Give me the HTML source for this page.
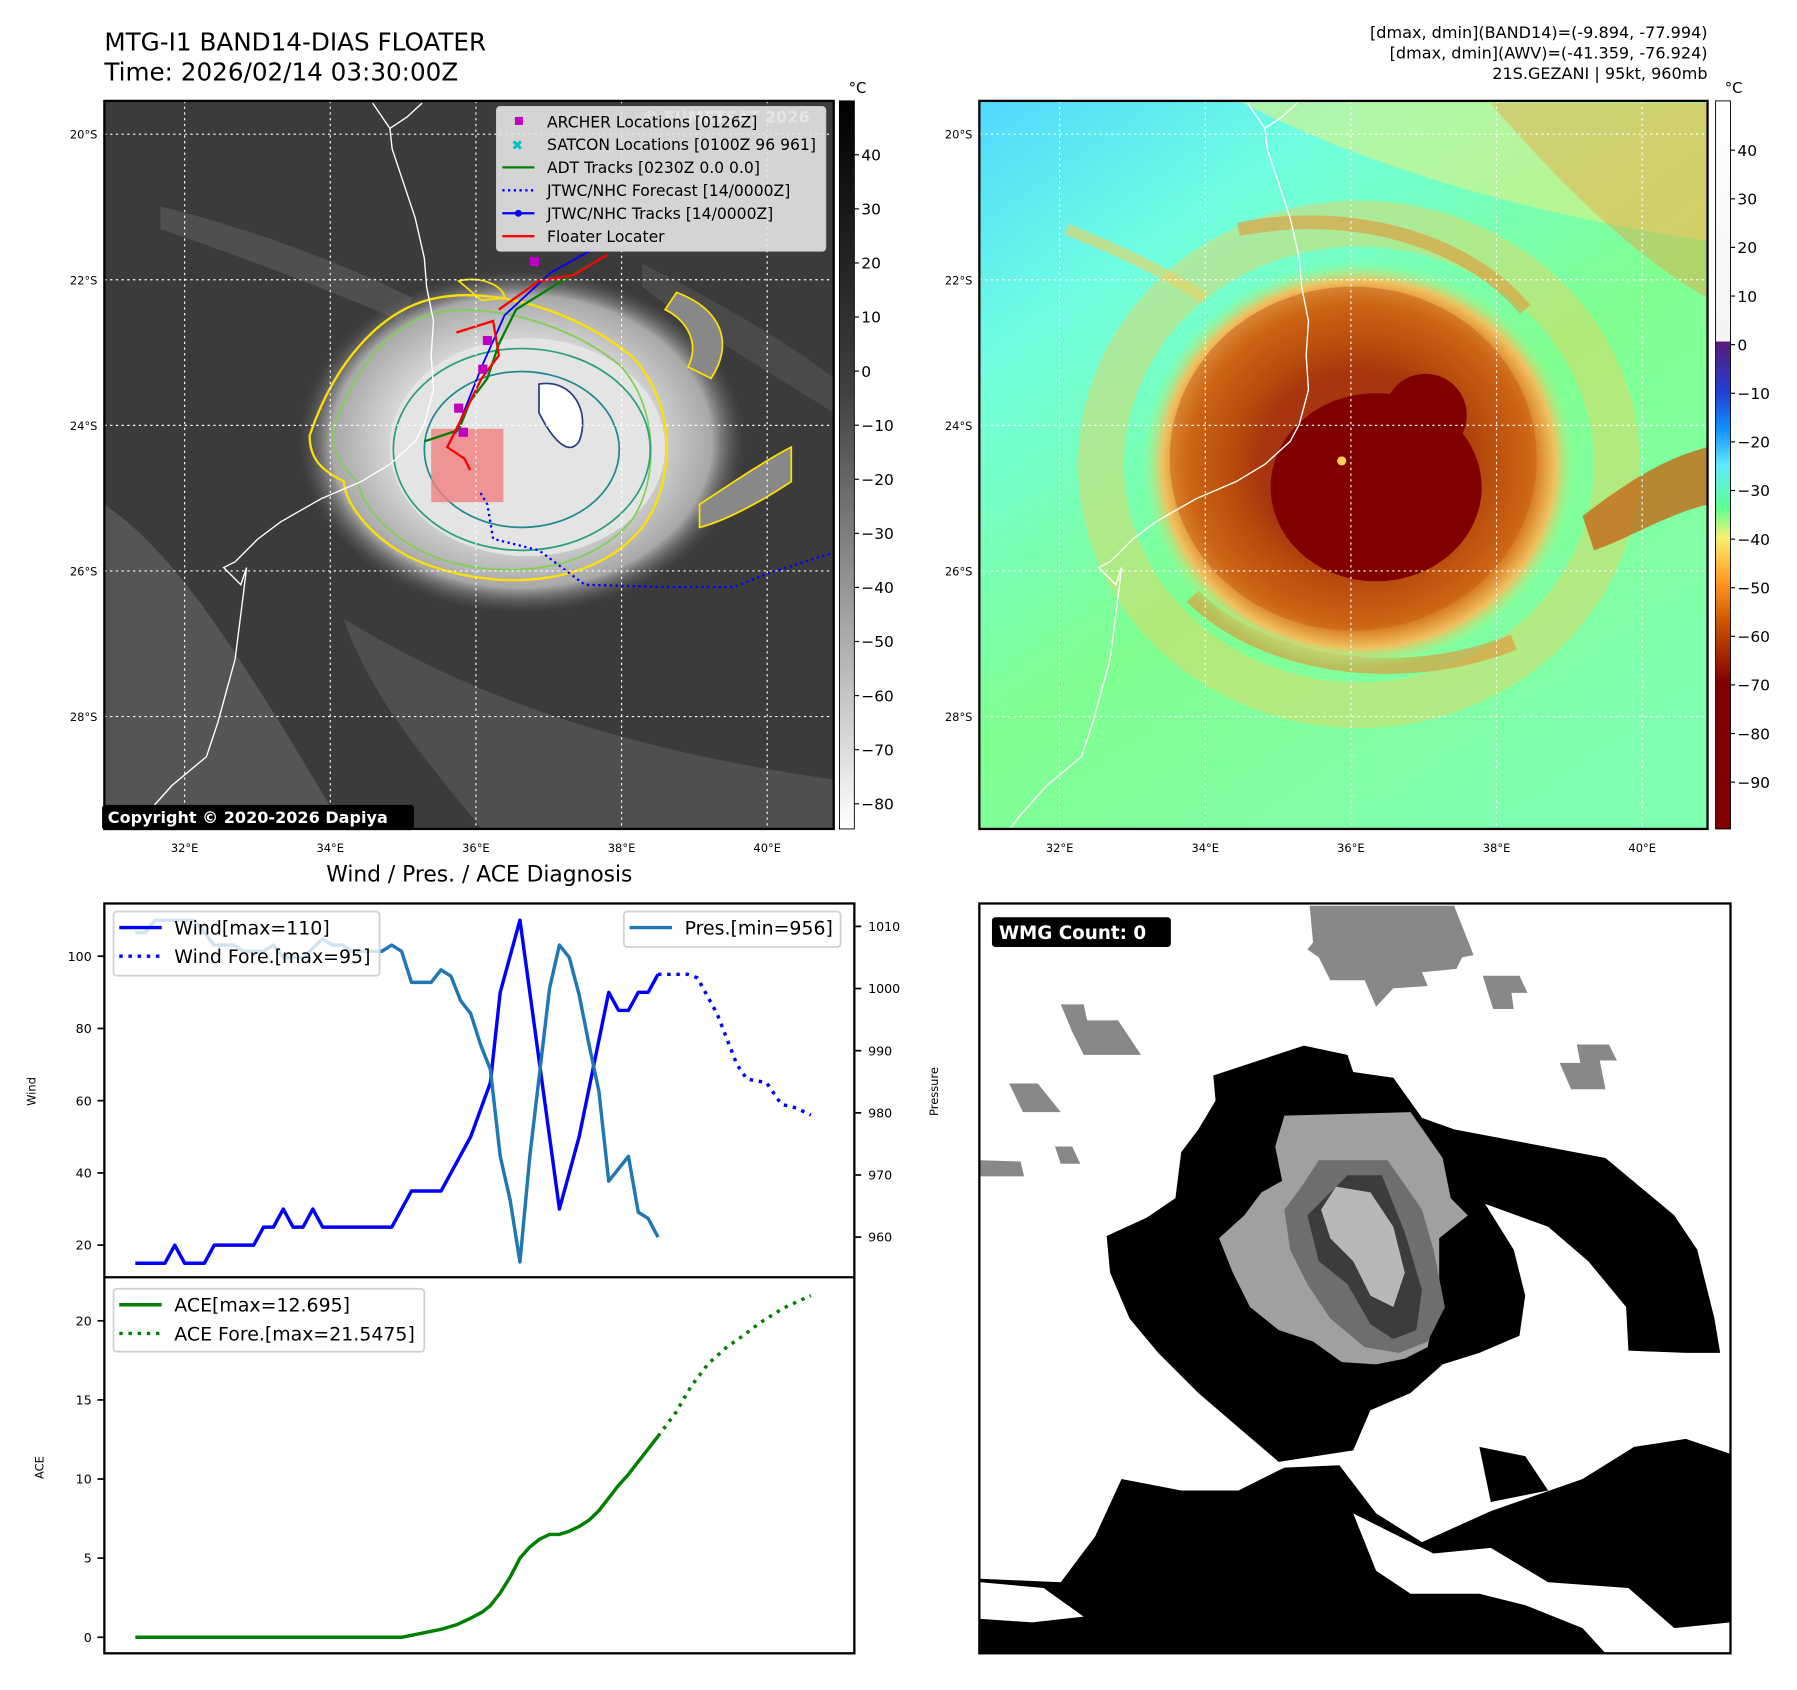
<!DOCTYPE html>
<html><head><meta charset="utf-8">
<style>
html,body{margin:0;padding:0;background:#fff;}
svg{display:block;font-family:"DejaVu Sans","Liberation Sans",sans-serif;}
</style></head>
<body>
<svg id="fig" width="1797" height="1690" viewBox="0 0 1567 1474" preserveAspectRatio="none" xmlns="http://www.w3.org/2000/svg">
<defs>
  <linearGradient id="cbGrey" x1="0" y1="0" x2="0" y2="1">
    <stop offset="0" stop-color="#000"/><stop offset="0.4" stop-color="#404040"/><stop offset="1" stop-color="#fff"/>
  </linearGradient>
  <linearGradient id="cbColor" x1="0" y1="0" x2="0" y2="1">
    <stop offset="0" stop-color="#fff"/><stop offset="0.33" stop-color="#f4f4f4"/>
    <stop offset="0.331" stop-color="#5a1a7a"/><stop offset="0.4" stop-color="#2040d0"/>
    <stop offset="0.45" stop-color="#1090ff"/><stop offset="0.5" stop-color="#60e8ff"/>
    <stop offset="0.56" stop-color="#60ff90"/><stop offset="0.6" stop-color="#f8f070"/>
    <stop offset="0.66" stop-color="#ff9a20"/><stop offset="0.72" stop-color="#c85000"/>
    <stop offset="0.8" stop-color="#800000"/><stop offset="1" stop-color="#800000"/>
  </linearGradient>
  <radialGradient id="cloudG" cx="0.5" cy="0.5" r="0.5">
    <stop offset="0" stop-color="#f4f4f4"/><stop offset="0.55" stop-color="#dcdcdc"/>
    <stop offset="0.85" stop-color="#a8a8a8"/><stop offset="1" stop-color="#5a5a5a" stop-opacity="0"/>
  </radialGradient>
  <radialGradient id="stormC" cx="0.5" cy="0.5" r="0.5">
    <stop offset="0" stop-color="#7a0000"/><stop offset="0.45" stop-color="#800000"/>
    <stop offset="0.6" stop-color="#a83800"/><stop offset="0.78" stop-color="#d06810"/>
    <stop offset="0.9" stop-color="#f0c060"/><stop offset="1" stop-color="#90ff90" stop-opacity="0"/>
  </radialGradient>
  <linearGradient id="bgRight" x1="0" y1="0" x2="0.7" y2="1">
    <stop offset="0" stop-color="#50d8ff"/><stop offset="0.25" stop-color="#70ffe0"/>
    <stop offset="0.6" stop-color="#80ff90"/><stop offset="1" stop-color="#80ffb0"/>
  </linearGradient>
  <clipPath id="clipL"><rect x="91" y="88" width="636" height="635"/></clipPath>
  <clipPath id="clipR"><rect x="854" y="88" width="635" height="635"/></clipPath>
  <clipPath id="clipW"><rect x="854" y="788" width="655" height="654"/></clipPath>
</defs>

<!-- Titles -->
<text x="91" y="44" font-size="21.5">MTG-I1 BAND14-DIAS FLOATER</text>
<text x="91" y="70" font-size="21.5">Time: 2026/02/14 03:30:00Z</text>
<g font-size="14" text-anchor="end">
<text x="1489" y="33">[dmax, dmin](BAND14)=(-9.894, -77.994)</text>
<text x="1489" y="51">[dmax, dmin](AWV)=(-41.359, -76.924)</text>
<text x="1489" y="69">21S.GEZANI | 95kt, 960mb</text>
</g>

<!-- LEFT MAP -->
<g clip-path="url(#clipL)">
  <rect x="91" y="88" width="636" height="635" fill="#3b3b3b"/>
  <path d="M91,440 C150,480 200,560 250,640 L300,723 L91,723Z" fill="#5c5c5c" opacity="0.8"/>
  <path d="M300,540 C400,600 520,650 727,680 L727,723 L420,723 C360,650 320,600 300,540Z" fill="#555" opacity="0.8"/>
  <path d="M140,180 C220,200 300,230 360,260 L350,280 C280,250 200,220 140,200Z" fill="#555" opacity="0.8"/>
  <path d="M560,230 C620,260 690,300 727,330 L727,360 C680,330 610,290 560,250Z" fill="#4a4a4a"/>
  <ellipse cx="455" cy="385" rx="195" ry="150" fill="url(#cloudG)"/>
  <ellipse cx="460" cy="390" rx="120" ry="95" fill="#e4e4e4"/>
  <path d="M270,380 C290,320 330,270 380,260 C430,250 500,270 550,310 C590,350 590,420 560,460 C520,510 440,515 380,495 C330,480 300,440 300,420 C280,410 270,400 270,380Z" fill="none" stroke="#ffe000" stroke-width="2"/>
  <path d="M290,375 C310,320 340,280 385,272 C430,265 495,282 540,318 C575,355 575,420 550,455 C510,500 440,505 385,488 C340,472 315,440 312,420 C295,405 290,392 290,375Z" fill="none" stroke="#80d050" stroke-width="1.5"/>
  <ellipse cx="455" cy="392" rx="112" ry="88" fill="none" stroke="#2aa080" stroke-width="1.5"/>
  <ellipse cx="455" cy="392" rx="85" ry="68" fill="none" stroke="#208890" stroke-width="1.5"/>
  <path d="M470,335 C500,330 515,360 505,385 C495,400 480,380 470,360Z" fill="#fff" stroke="#283c80" stroke-width="1.5"/>
  <path d="M590,255 C630,270 640,300 620,330 L600,320 C610,300 600,280 580,270Z" fill="#888" stroke="#ffe000" stroke-width="1.5"/>
  <path d="M610,440 C640,420 670,400 690,390 L690,420 C660,440 630,455 610,460Z" fill="#888" stroke="#ffe000" stroke-width="1.5"/>
  <path d="M400,245 C420,240 440,250 440,260 L420,262Z" fill="none" stroke="#ffe000" stroke-width="1.5"/>
  <path d="M340,112 L342,130 L352,160 L362,190 L370,225 L372,250 L378,280 L376,310 L378,340 L370,370 L362,385 L340,405 L315,420 L280,435 L245,455 L225,470 L205,490 L195,495 L210,510 L215,495 L212,520 L205,575 L190,630 L180,660 L150,685 L125,713 L118,723 M325,90 L340,112 L355,102 L368,90" fill="none" stroke="#fff" stroke-width="1.2"/>
  <rect x="376" y="374" width="63" height="64" fill="#f08080" opacity="0.8"/>
  <path d="M419,430 L425,440 L430,470 L470,480 L510,510 L580,512 L640,512 L670,500 L727,482" fill="none" stroke="#0000ff" stroke-width="2" stroke-dasharray="2,3"/>
  <path d="M397,378 L420,320 L440,275 L480,238 L530,210" fill="none" stroke="#0000ff" stroke-width="1.6"/>
  <path d="M370,385 L400,375 L410,350 L425,330 L435,300 L450,270 L490,245 L525,225" fill="none" stroke="#008000" stroke-width="2"/>
  <path d="M398,290 L430,280 L435,310 L420,330 L395,380 L390,390 L405,400 L410,410 M435,270 L470,245 L500,240 L530,222" fill="none" stroke="#ff0000" stroke-width="2"/>
  <g fill="#c000c0"><rect x="462" y="224" width="8" height="8"/><rect x="421" y="293" width="8" height="8"/><rect x="417" y="318" width="8" height="8"/><rect x="396" y="352" width="8" height="8"/><rect x="400" y="373" width="8" height="8"/></g>
  <g stroke="#fff" stroke-width="1" stroke-dasharray="2,3" fill="none">
    <path d="M161,88V723M288,88V723M415,88V723M542,88V723M669,88V723"/>
    <path d="M91,117H727M91,244H727M91,371H727M91,498H727M91,625H727"/>
  </g>
  <text x="560" y="107" font-size="14" fill="#d8d8d8" font-weight="bold">© EUMETSAT 2026</text>
</g>
<rect x="91" y="88" width="636" height="635" fill="none" stroke="#000" stroke-width="2"/>
<g font-size="13.6">
  <rect x="433" y="93" width="287" height="126" fill="#e6e6e6" fill-opacity="0.9" stroke="#ccc" rx="3"/>
  <rect x="449" y="102" width="7" height="7" fill="#c000c0"/><text x="477" y="111">ARCHER Locations [0126Z]</text>
  <text x="446" y="131" fill="#00c0c0" font-size="12" font-weight="bold">✖</text><text x="477" y="131">SATCON Locations [0100Z 96 961]</text>
  <line x1="438" y1="146" x2="466" y2="146" stroke="#008000" stroke-width="2"/><text x="477" y="151">ADT Tracks [0230Z 0.0 0.0]</text>
  <line x1="438" y1="166" x2="466" y2="166" stroke="#0000ff" stroke-width="2" stroke-dasharray="2,3"/><text x="477" y="171">JTWC/NHC Forecast [14/0000Z]</text>
  <line x1="438" y1="186" x2="466" y2="186" stroke="#0000ff" stroke-width="2"/><circle cx="452" cy="186" r="3" fill="#0000ff"/><text x="477" y="191">JTWC/NHC Tracks [14/0000Z]</text>
  <line x1="438" y1="206" x2="466" y2="206" stroke="#ff0000" stroke-width="2"/><text x="477" y="211">Floater Locater</text>
</g>
<g>
  <rect x="89" y="702" width="272" height="22" rx="3" fill="#000"/>
  <text x="94" y="718" font-size="14" font-weight="bold" fill="#fff">Copyright © 2020-2026 Dapiya</text>
</g>
<g font-size="10">
  <g text-anchor="end"><text x="85" y="121">20°S</text><text x="85" y="248">22°S</text><text x="85" y="375">24°S</text><text x="85" y="502">26°S</text><text x="85" y="629">28°S</text></g>
  <g text-anchor="middle"><text x="161" y="743">32°E</text><text x="288" y="743">34°E</text><text x="415" y="743">36°E</text><text x="542" y="743">38°E</text><text x="669" y="743">40°E</text></g>
</g>
<g>
  <rect x="732" y="88" width="13" height="635" fill="url(#cbGrey)" stroke="#000" stroke-width="0.8"/>
  <text x="740" y="81" font-size="13">°C</text>
  <g id="cbLticks" font-size="13.5"></g>
</g>

<!-- RIGHT MAP -->
<g clip-path="url(#clipR)">
  <rect x="854" y="88" width="635" height="635" fill="url(#bgRight)"/>
  <path d="M1080,88 C1200,150 1350,190 1489,210 L1489,88Z" fill="#e8f080" opacity="0.55"/>
  <path d="M1300,90 C1360,160 1420,220 1489,260 L1489,90Z" fill="#f0a040" opacity="0.45"/>
  <path d="M930,200 C980,220 1020,240 1050,260" stroke="#f0d060" stroke-width="10" fill="none" opacity="0.6"/>
  <ellipse cx="1185" cy="405" rx="225" ry="210" fill="none" stroke="#f0d060" stroke-width="40" opacity="0.45"/>
  <path d="M1040,520 C1100,580 1220,600 1320,560" stroke="#e89030" stroke-width="14" fill="none" opacity="0.6"/>
  <path d="M1080,200 C1180,180 1280,210 1330,270" stroke="#e89030" stroke-width="12" fill="none" opacity="0.55"/>
  <ellipse cx="1185" cy="405" rx="190" ry="178" fill="url(#stormC)"/>
  <ellipse cx="1180" cy="400" rx="160" ry="150" fill="#c86018" opacity="0.55"/>
  <ellipse cx="1200" cy="425" rx="92" ry="82" fill="#800000"/>
  <ellipse cx="1243" cy="362" rx="36" ry="36" fill="#800000"/>
  <path d="M1380,450 C1420,420 1450,400 1489,390 L1489,440 C1450,450 1420,470 1390,480Z" fill="#c86010" opacity="0.75"/>
  <circle cx="1170" cy="402" r="4" fill="#ffd060"/>
  <path d="M1103,112 L1105,130 L1115,160 L1125,190 L1133,225 L1135,250 L1141,280 L1139,310 L1141,340 L1133,370 L1125,385 L1103,405 L1078,420 L1043,435 L1008,455 L988,470 L968,490 L958,495 L973,510 L978,495 L975,520 L968,575 L953,630 L943,660 L913,685 L888,713 L881,723 M1088,90 L1103,112 L1118,102 L1131,90" fill="none" stroke="#fff" stroke-width="1.2"/>
  <g stroke="#fff" stroke-width="1" stroke-dasharray="2,3" fill="none">
    <path d="M924,88V723M1051,88V723M1178,88V723M1305,88V723M1432,88V723"/>
    <path d="M854,117H1489M854,244H1489M854,371H1489M854,498H1489M854,625H1489"/>
  </g>
</g>
<rect x="854" y="88" width="635" height="635" fill="none" stroke="#000" stroke-width="2"/>
<g font-size="10">
  <g text-anchor="end"><text x="848" y="121">20°S</text><text x="848" y="248">22°S</text><text x="848" y="375">24°S</text><text x="848" y="502">26°S</text><text x="848" y="629">28°S</text></g>
  <g text-anchor="middle"><text x="924" y="743">32°E</text><text x="1051" y="743">34°E</text><text x="1178" y="743">36°E</text><text x="1305" y="743">38°E</text><text x="1432" y="743">40°E</text></g>
</g>
<g>
  <rect x="1496" y="88" width="13" height="635" fill="url(#cbColor)" stroke="#000" stroke-width="0.8"/>
  <text x="1504" y="81" font-size="13">°C</text>
  <g id="cbRticks" font-size="13.5"></g>
</g>

<!-- BOTTOM LEFT CHART -->
<text x="418" y="769" font-size="19" text-anchor="middle">Wind / Pres. / ACE Diagnosis</text>
<g id="chart"></g>
<rect x="91" y="788" width="654" height="654" fill="none" stroke="#000" stroke-width="2"/>
<line x1="91" y1="1114" x2="745" y2="1114" stroke="#000" stroke-width="2"/>
<text transform="translate(31,952) rotate(-90)" font-size="10" text-anchor="middle">Wind</text>
<text transform="translate(818,952) rotate(-90)" font-size="10" text-anchor="middle">Pressure</text>
<text transform="translate(38,1280) rotate(-90)" font-size="10" text-anchor="middle">ACE</text>

<!-- BOTTOM RIGHT WMG -->
<g clip-path="url(#clipW)">
  <rect x="854" y="788" width="655" height="654" fill="#fff"/>
  <g fill="#888">
    <path d="M1142,790 L1268,790 L1285,833 L1275,835 L1270,845 L1240,848 L1245,860 L1215,862 L1200,878 L1190,855 L1160,855 L1150,835 L1140,828 L1145,822Z"/>
    <path d="M925,876 L945,876 L948,890 L975,890 L995,920 L945,920 L935,900Z"/>
    <path d="M880,945 L905,945 L925,970 L892,970Z"/>
    <path d="M855,1012 L890,1013 L893,1026 L855,1026Z"/>
    <path d="M920,1000 L935,1000 L942,1015 L925,1015Z"/>
    <path d="M1293,851 L1325,851 L1332,866 L1318,866 L1320,880 L1302,880Z"/>
    <path d="M1375,911 L1403,911 L1410,925 L1395,925 L1400,950 L1370,950 L1360,927 L1378,927Z"/>
  </g>
  <g fill="#000">
    <path d="M1058,938 L1137,912 L1175,920 L1180,935 L1215,940 L1240,975 L1268,985 L1400,1010 L1460,1060 L1480,1090 L1495,1150 L1500,1180 L1470,1180 L1420,1178 L1418,1140 L1385,1100 L1350,1070 L1295,1050 L1320,1090 L1330,1130 L1325,1165 L1290,1180 L1258,1190 L1230,1215 L1195,1230 L1180,1265 L1115,1275 L1080,1245 L1045,1215 L1010,1180 L985,1150 L968,1110 L965,1078 L1000,1062 L1025,1045 L1030,1005 L1045,985 L1060,960Z"/>
    <path d="M855,1377 L925,1380 L955,1340 L978,1290 L1030,1300 L1080,1300 L1120,1280 L1168,1278 L1200,1320 L1240,1345 L1300,1318 L1380,1290 L1425,1262 L1470,1255 L1509,1268 L1509,1442 L855,1442Z"/>
    <path d="M1290,1262 L1330,1270 L1350,1300 L1300,1310Z"/>
  </g>
  <g fill="#fff">
    <path d="M855,1380 L910,1385 L945,1410 L900,1415 L855,1412Z"/>
    <path d="M1180,1320 L1250,1355 L1300,1350 L1350,1380 L1420,1385 L1460,1420 L1509,1415 L1509,1442 L1400,1442 L1380,1420 L1330,1400 L1290,1390 L1230,1390 L1200,1370Z"/>
  </g>
  <g fill="#a0a0a0"><path d="M1120,973 L1230,970 L1258,1010 L1265,1045 L1280,1060 L1255,1080 L1255,1120 L1245,1175 L1225,1185 L1200,1190 L1170,1188 L1145,1170 L1115,1160 L1090,1140 L1075,1110 L1063,1080 L1085,1060 L1100,1040 L1118,1030 L1112,1000Z"/></g>
  <g fill="#6e6e6e"><path d="M1150,1012 L1210,1012 L1240,1055 L1250,1090 L1260,1140 L1245,1170 L1220,1180 L1190,1175 L1160,1150 L1140,1120 L1125,1090 L1120,1055 L1135,1035Z"/></g>
  <g fill="#3c3c3c"><path d="M1175,1025 L1205,1025 L1225,1075 L1240,1125 L1235,1160 L1215,1168 L1195,1155 L1175,1120 L1150,1100 L1140,1060Z"/></g>
  <g fill="#b8b8b8"><path d="M1165,1035 L1195,1040 L1215,1070 L1225,1110 L1215,1140 L1195,1130 L1180,1100 L1160,1080 L1152,1055Z"/></g>
</g>
<rect x="854" y="788" width="655" height="654" fill="none" stroke="#000" stroke-width="2"/>
<g>
  <rect x="865" y="800" width="156" height="26" rx="3" fill="#000"/>
  <text x="871" y="819" font-size="16" font-weight="bold" fill="#fff">WMG Count: 0</text>
</g>

<script>
// ---- Data ----
const windIdx = [0,3,4,5,7,8,12,13,14,15,16,17,18,19,26,28,31,34,36,37,39,43,45,48,49,50,51,52,53];
const windVals = [15,15,20,15,15,20,20,25,25,30,25,25,30,25,25,35,35,50,65,90,110,30,50,90,85,85,90,90,95];
const windForeIdx = [53,56,57,59,61,62,64,65.5,67,68.5];
const windForeVals = [95,95,94,84,70,66,65,59,58,56];
const presIdx = [0,1,2,6,8,10,11,13,14,15,17,19,20,21,22,25,26,27,28,30,31,32,33,34,35,36,37,38,39,40,42,43,44,45,46,47,48,50,51,52,53];
const presVals = [1009,1009,1011,1011,1007,1007,1006,1006,1007,1005,1005,1008,1007,1007,1006,1006,1007,1006,1001,1001,1003,1002,998,996,991,987,973,966,956,973,1000,1007,1005,999,991,983.5,969,973,964,963,960];
const aceIdx = [0,27,31,32.6,34,35.2,36,37,38,39,40,41,42,43,44,45,46,47,48,49,50,51,52,53];
const aceVals = [0,0,0.5,0.8,1.2,1.6,2.0,2.8,3.8,5.0,5.7,6.2,6.5,6.5,6.7,7.0,7.4,8.0,8.8,9.6,10.3,11.1,11.9,12.7];
const aceForeIdx = [53,54.8,56.4,58.1,59.9,61.7,63.4,65.7,68.5];
const aceForeVals = [12.7,14.2,15.9,17.3,18.3,19.1,19.9,20.8,21.6];
const windTicks = [20,40,60,80,100];
const presTicks = [960,970,980,990,1000,1010];
const aceTicks = [0,5,10,15,20];
const cbLeftTicks = [40,30,20,10,0,-10,-20,-30,-40,-50,-60,-70,-80];
const cbRightTicks = [40,30,20,10,0,-10,-20,-30,-40,-50,-60,-70,-80,-90];

// ---- Axis functions ----
const X = i => 118 + i * 8.6;
const WY = v => 1086 - (v - 20) * 3.15;
const PY = p => 1079 - (p - 960) * 5.42;
const AY = a => 1428 - a * 13.8;
const CBL = t => 135 + (40 - t) * 4.717;
const CBR = t => 131 + (40 - t) * 4.24;

const NS = 'http://www.w3.org/2000/svg';
const chart = document.getElementById('chart');
function mk(tag, attrs, parent) {
  const e = document.createElementNS(NS, tag);
  for (const k in attrs) e.setAttribute(k, attrs[k]);
  parent.appendChild(e);
  return e;
}
function pathFrom(xs, ys, fx, fy) {
  return xs.map((x, i) => (i ? 'L' : 'M') + fx(x).toFixed(1) + ',' + fy(ys[i]).toFixed(1)).join(' ');
}

windTicks.forEach(t => {
  const y = WY(t);
  const l = mk('line', {x1: 85, x2: 91, y1: y, y2: y, stroke: '#000', 'stroke-width': 1.5}, chart);
  
  
  const tx = mk('text', {x: 80, y: y + 4, 'font-size': 11, 'text-anchor': 'end'}, chart);
  tx.textContent = t;
  
  
});
presTicks.forEach(t => {
  const y = PY(t);
  const l = mk('line', {x1: 745, x2: 751, y1: y, y2: y, stroke: '#000', 'stroke-width': 1.5}, chart);
  
  
  const tx = mk('text', {x: 757, y: y + 4, 'font-size': 11}, chart);
  tx.textContent = t;
  
  
});
aceTicks.forEach(t => {
  const y = AY(t);
  const l = mk('line', {x1: 85, x2: 91, y1: y, y2: y, stroke: '#000', 'stroke-width': 1.5}, chart);
  
  
  const tx = mk('text', {x: 80, y: y + 4, 'font-size': 11, 'text-anchor': 'end'}, chart);
  tx.textContent = t;
  
  
});

const pw = mk('path', {d: pathFrom(windIdx, windVals, X, WY), fill: 'none', stroke: '#0000ff', 'stroke-width': 3, 'stroke-linejoin': 'round'}, chart);


const pwf = mk('path', {d: pathFrom(windForeIdx, windForeVals, X, WY), fill: 'none', stroke: '#0000ff', 'stroke-width': 3, 'stroke-dasharray': '3,5'}, chart);


const pp = mk('path', {d: pathFrom(presIdx, presVals, X, PY), fill: 'none', stroke: '#1f77b4', 'stroke-width': 3, 'stroke-linejoin': 'round'}, chart);


const pa = mk('path', {d: pathFrom(aceIdx, aceVals, X, AY), fill: 'none', stroke: '#008000', 'stroke-width': 3, 'stroke-linejoin': 'round'}, chart);


const paf = mk('path', {d: pathFrom(aceForeIdx, aceForeVals, X, AY), fill: 'none', stroke: '#008000', 'stroke-width': 3, 'stroke-dasharray': '3,5'}, chart);



function legend(x, y, w, h, items, name) {
  const g = mk('g', {}, chart);
  
  
  mk('rect', {x: x, y: y, width: w, height: h, rx: 3, fill: '#fff', 'fill-opacity': 0.8, stroke: '#d0d0d0', 'stroke-width': 1.5}, g);
  items.forEach((it, k) => {
    const cy = y + 14 + k * 25;
    const a = {x1: x + 5, x2: x + 42, y1: cy, y2: cy, stroke: it.c, 'stroke-width': 3};
    if (it.dash) a['stroke-dasharray'] = '3,5';
    mk('line', a, g);
    const t = mk('text', {x: x + 53, y: cy + 6, 'font-size': 16.5}, g);
    t.textContent = it.t;
  });
}
legend(99, 795, 232, 56, [{c: '#0000ff', t: 'Wind[max=110]'}, {c: '#0000ff', t: 'Wind Fore.[max=95]', dash: 1}], 'wind-legend');
legend(544, 795, 189, 31, [{c: '#1f77b4', t: 'Pres.[min=956]'}], 'pressure-legend');
legend(99, 1124, 271, 55, [{c: '#008000', t: 'ACE[max=12.695]'}, {c: '#008000', t: 'ACE Fore.[max=21.5475]', dash: 1}], 'ace-legend');

const gl = document.getElementById('cbLticks');
cbLeftTicks.forEach(t => {
  const y = CBL(t);
  mk('line', {x1: 745, x2: 749, y1: y, y2: y, stroke: '#000'}, gl);
  const tx = mk('text', {x: 751, y: y + 5}, gl);
  tx.textContent = t < 0 ? '\u2212' + (-t) : t;
  
  
});
const gr = document.getElementById('cbRticks');
cbRightTicks.forEach(t => {
  const y = CBR(t);
  mk('line', {x1: 1509, x2: 1513, y1: y, y2: y, stroke: '#000'}, gr);
  const tx = mk('text', {x: 1515, y: y + 5}, gr);
  tx.textContent = t < 0 ? '\u2212' + (-t) : t;
  
  
});
</script>
</svg>
</body></html>
